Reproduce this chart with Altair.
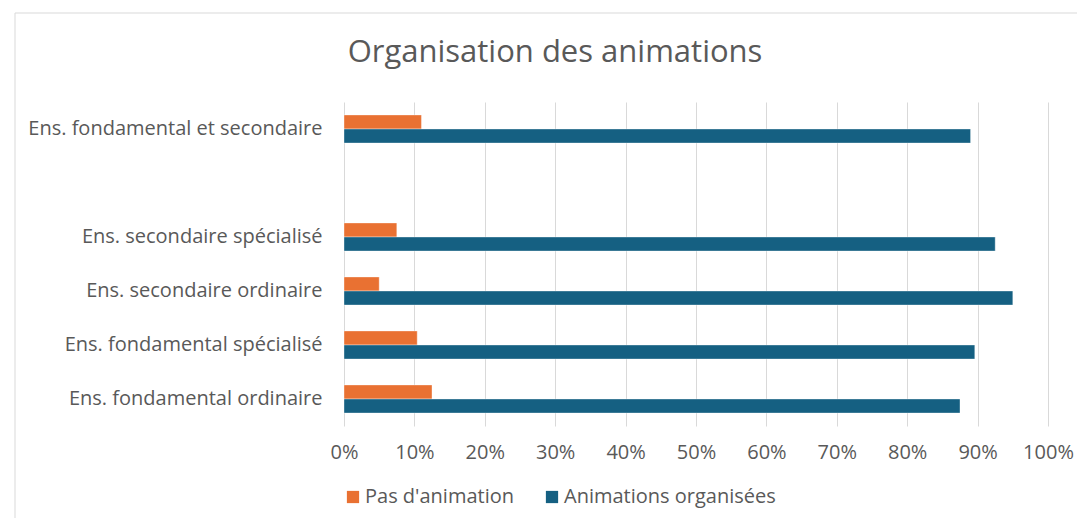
import altair as alt
import pandas as pd

categories = [
    "Ens. fondamental et secondaire",
    "Ens. secondaire spécialisé",
    "Ens. secondaire ordinaire",
    "Ens. fondamental spécialisé",
    "Ens. fondamental ordinaire",
]
pas_animation = [0.11, 0.075, 0.05, 0.104, 0.125]
animations_organisees = [0.89, 0.925, 0.95, 0.896, 0.875]
series = ["Pas d'animation", "Animations organisées"]
colors = ["#E97132", "#156082"]
x_ticks = [0.0, 0.1, 0.2, 0.3, 0.4, 0.5, 0.6, 0.7, 0.8, 0.9, 1.0]
y_domain = [categories[0], " "] + categories[1:]

FONT = "Open Sans"
TXT = "#595959"
FS = 20

rows = []
for c, p, a in zip(categories, pas_animation, animations_organisees):
    rows.append({"cat": c, "serie": series[0], "val": p})
    rows.append({"cat": c, "serie": series[1], "val": a})
df = pd.DataFrame(rows)

bars = alt.Chart(df).mark_bar(stroke="white", strokeWidth=0.6, strokeOpacity=0.6).encode(
    x=alt.X(
        "val:Q",
        scale=alt.Scale(domain=[0, 1], nice=False),
        axis=alt.Axis(
            values=x_ticks, format=".0%", grid=True, gridColor="#D9D9D9",
            domain=False, ticks=False, labelFontSize=FS, labelColor=TXT,
            labelFont=FONT, labelPadding=16, title=None, labelFlush=False,
        ),
    ),
    y=alt.Y(
        "cat:N",
        scale=alt.Scale(domain=y_domain, paddingInner=0.48, paddingOuter=0.24),
        axis=alt.Axis(
            title=None, domain=False, ticks=False, grid=False, labelPadding=22,
            labelFontSize=FS, labelColor=TXT, labelFont=FONT, labelLimit=400,
        ),
    ),
    yOffset=alt.YOffset("serie:N", scale=alt.Scale(domain=series)),
    color=alt.Color(
        "serie:N",
        scale=alt.Scale(domain=series, range=colors),
        legend=alt.Legend(
            title=None, orient="none", legendX=-1, legendY=385,
            direction="horizontal", symbolType="square", symbolSize=150,
            symbolStrokeWidth=0, labelFontSize=FS, labelColor=TXT,
            labelFont=FONT, columnPadding=27, labelOffset=2, labelLimit=400,
        ),
    ),
)

frame = alt.Chart(pd.DataFrame({"a": [0]})).mark_rect(
    fill=None, stroke="#D9D9D9", strokeWidth=1
).encode(
    x=alt.value(-329), x2=alt.value(760), y=alt.value(-89), y2=alt.value(440)
)

chart = alt.layer(frame, bars).properties(
    width=704,
    height=324,
    title=alt.Title(
        "Organisation des animations", fontSize=31, font=FONT, color=TXT,
        fontWeight="normal", anchor="middle", frame="group", dx=-141, offset=-56,
    ),
    autosize=alt.AutoSizeParams(type="none"),
    padding={"left": 336, "top": 94, "right": 29, "bottom": 92},
).configure(background="white").configure_view(stroke=None)

chart.save("out.html", embed_options={"renderer": "svg", "actions": False})
